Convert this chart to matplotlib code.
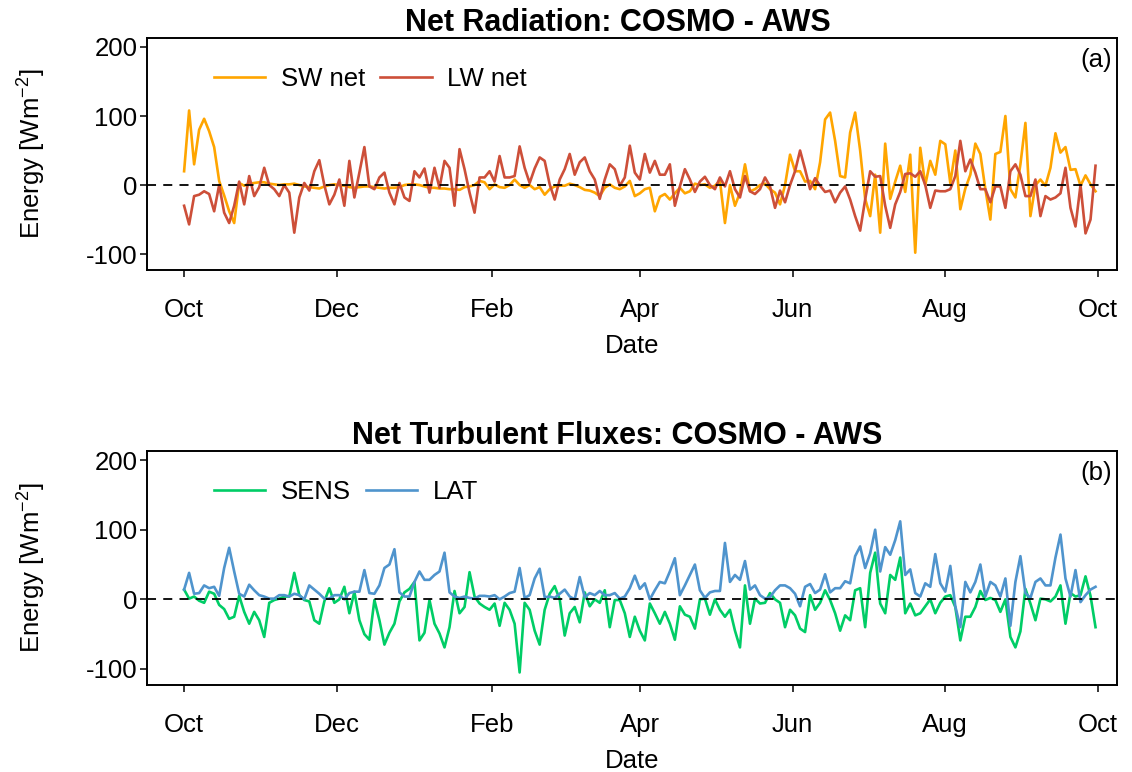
import numpy as np
import pandas as pd
import matplotlib
matplotlib.use("Agg")
import matplotlib.pyplot as plt
import matplotlib.dates as mdates

plt.rcParams['font.family'] = ['Liberation Sans', 'DejaVu Sans']
plt.rcParams['mathtext.fontset'] = 'custom'
plt.rcParams['mathtext.rm'] = 'Liberation Sans'
plt.rcParams['mathtext.it'] = 'Liberation Sans:italic'
plt.rcParams['axes.unicode_minus'] = False

# COSMO minus AWS differences, every second day from 1 Oct
start = "2014-10-01"
n_days = 183

# net radiation (W m-2)
sw_net = [20, 108, 30, 80, 96, 78, 55, 6, -15, -38, -55, 3, -1, 2, 3, 4, 4, 2, 1, 0,
          1, 1, 2, 0, -2, -3, -4, -5, -2, 0,
          1, 0, -1, -3, -4, -3, -2, -2, -3, -4, -5, -4, -4, -3, 0, 1, 1, 0, -2, -4,
          -4, -5, -5, -6, -6, -7, -3, -2, 0, 6, 4,
          -6, 1, -3, -4, 0, 8, 0, -4, 0, -6, -3, -14, -6, -2, -1, -1, 2, 0, -3, -7,
          -8, -11, -16, -4, 1, -4, -6, -2, 6, -16, -12,
          -6, -4, -38, -17, -13, -21, -12, -4, -12, -9, 2, 0, 1, -4, -1, 6, -55, 0, -30, -11,
          30, -9, -6, 0, 2, -6, -11, -28, 0, 44, 20,
          20, 5, 6, -6, 33, 95, 105, 64, 13, 11, 76, 105, 50, -20, -45, 15, -69, 60, -20, 5,
          28, -10, 44, -98, 54, 0, 35, 15, 64, 59, 3,
          50, -35, -5, 15, 60, 45, -6, -50, 45, 48, 100, -6, -18, 30, 90, -45, 0, 8, -1, 25,
          75, 47, 55, 22, 23, -1, 14, 1, -9]
lw_net = [-30, -57, -16, -14, -9, -13, -38, 0, -40, -55, -30, 5, -28, 13, -16, -3, 25, 0, -6, -16,
          0, -11, -69, -18, 3, -8, 20, 36, 0, -28,
          -14, 8, -30, 35, -18, 18, 55, -2, -6, 11, 18, -11, -28, 3, -18, -23, 20, 11, 24, -11,
          25, -4, 35, 25, -30, 52, 23, -11, -40, 11, 11,
          20, 5, 42, 11, 11, 13, 56, 25, 3, 24, 40, 35, 1, -21, 8, 23, 45, 15, 33, 40,
          20, 8, -20, 8, 30, 23, -1, 11, 57, 18, 8,
          45, 18, 35, 15, 15, 30, -30, -2, 23, 8, -10, 5, 12, 0, -6, 11, -2, 20, -6, -18,
          13, -9, -13, -6, 11, -2, -33, -8, -25, 0, 20,
          50, 23, -6, 10, -1, -10, -8, -25, -11, -2, -21, -45, -66, -21, 20, 12, 13, -30, -62, -28,
          -10, 16, 17, 12, 20, 0, -33, -8, -9, -9, -6,
          13, 64, 20, 37, 18, -6, -6, -25, -2, -2, -33, 20, 30, 15, -16, -16, 8, -45, -16, -21,
          -18, -12, 25, -33, -60, 0, -70, -50, 28]

# turbulent fluxes (W m-2)
sens = [14, 1, 4, -2, -5, 11, 8, -8, -14, -28, -25, 5, -18, -35, -18, -30, -54, -5, -1, 1,
        4, 4, 38, 6, -1, -3, -30, -35, -3, 16,
        -5, 0, 18, -20, 11, -30, -50, -58, -1, -30, -65, -48, -35, -3, 10, 15, 25, -59, -48, -1,
        -35, -49, -69, -40, 12, -20, -11, 39, 4, -6, -11,
        -15, -6, -38, -5, -15, -35, -105, -5, -15, -45, -65, -15, 8, 19, 0, -52, -20, -11, -33, 10,
        -10, 0, -5, 13, -40, -1, -1, -20, -54, -25, -45,
        -59, -6, -20, -35, -18, -35, -58, -10, -22, -25, -42, 0, 1, -22, 0, -15, -25, -15, -45, -69,
        20, -35, 1, -6, -5, 9, 0, -5, -40, -15, -23,
        -42, -47, 6, -15, -5, 13, -1, -20, -45, -23, -30, 13, 16, -40, 38, 67, -6, -20, 35, 28,
        60, -20, -6, -23, -20, -10, 0, -20, -5, 4, 6,
        -11, -59, -25, -25, -11, 12, -1, 2, -1, -18, 0, -54, -69, -46, 15, -6, -30, 1, 0, -3,
        4, 20, -35, 9, 4, 6, 33, 5, -40]
lat = [14, 38, 8, 9, 20, 16, 18, 5, 45, 74, 40, 8, 4, 21, 13, 6, 4, 1, 1, 6,
       6, 4, 8, 6, 0, 20, 14, 8, 1, 1,
       6, 6, 0, 9, 11, 11, 42, 9, 8, 20, 45, 50, 72, 10, 4, 4, 25, 40, 28, 28,
       35, 40, 67, 10, 4, 2, 4, 2, 1, 5, 5,
       4, 6, 0, 4, 9, 11, 45, 2, 6, 30, 44, 3, 4, 2, 8, 14, 4, 0, 32, 3,
       9, 6, 12, 6, 6, 9, 1, 4, 16, 34, 15,
       23, 0, 13, 25, 23, 40, 59, 6, 20, 35, 50, 13, 2, 10, 12, 12, 81, 25, 35, 28,
       55, 14, 20, 6, 1, 3, 13, 20, 20, 16, 8,
       -10, 18, 22, 9, 14, 36, 10, 16, 16, 26, 23, 62, 76, 45, 66, 100, 40, 75, 64, 85,
       112, 35, 43, 9, 4, 23, 18, 65, 23, 11, 48,
       -10, -40, 25, 10, 25, 50, 4, 25, 20, 4, 30, -38, 25, 62, 9, 2, 25, 30, 20, 20,
       60, 93, 30, 4, 42, -4, 6, 14, 18]

dates = pd.date_range(start, periods=n_days, freq="2D")

panels = [
    ("Net Radiation: COSMO - AWS", "(a)",
     [(sw_net, "SW net", "#FFA500"), (lw_net, "LW net", "#CD4F39")]),
    ("Net Turbulent Fluxes: COSMO - AWS", "(b)",
     [(sens, "SENS", "#00CD66"), (lat, "LAT", "#4F94CD")]),
]

fig = plt.figure(figsize=(11.32, 7.72), dpi=100)
boxes = [[0.1299, 0.6503, 0.8569, 0.3005], [0.1299, 0.1127, 0.8569, 0.3031]]

t0 = pd.Timestamp(start)
ticks = pd.date_range(t0, periods=7, freq="2MS")

for box, (title, tag, series) in zip(boxes, panels):
    ax = fig.add_axes(box)
    for vals, name, col in series:
        ax.plot(dates, vals, color=col, lw=1.9, label=name)
    ax.axhline(0, color="black", lw=1.3, ls=(0, (5, 4)), zorder=5)

    ax.set_xlim(t0 - pd.Timedelta(days=14.8), t0 + pd.Timedelta(days=372.6))
    ax.set_ylim(-123, 213)
    ax.set_yticks([-100, 0, 100, 200])
    ax.set_xticks(ticks)
    ax.xaxis.set_major_formatter(mdates.DateFormatter("%b"))

    ax.tick_params(axis="both", labelsize=18.5, direction="out", length=5, width=1.1)
    ax.tick_params(axis="x", pad=15)
    ax.tick_params(axis="y", pad=2)
    for sp in ax.spines.values():
        sp.set_linewidth(1.4)

    ax.set_title(title, fontsize=22, fontweight="bold", pad=4, x=0.485)
    ax.set_xlabel("Date", fontsize=18.5, labelpad=9)
    ax.set_ylabel(r"Energy [Wm$^{-2}$]", fontsize=18.5, labelpad=27)
    ax.text(0.979, 0.905, tag, transform=ax.transAxes, fontsize=18.5,
            ha="center", va="center")
    ax.legend(loc="upper left", bbox_to_anchor=(0.045, 0.975), ncol=2, frameon=False,
              fontsize=18.5, handlelength=2.0, handletextpad=0.6, columnspacing=0.6)

fig.savefig("out.png", dpi=100)
